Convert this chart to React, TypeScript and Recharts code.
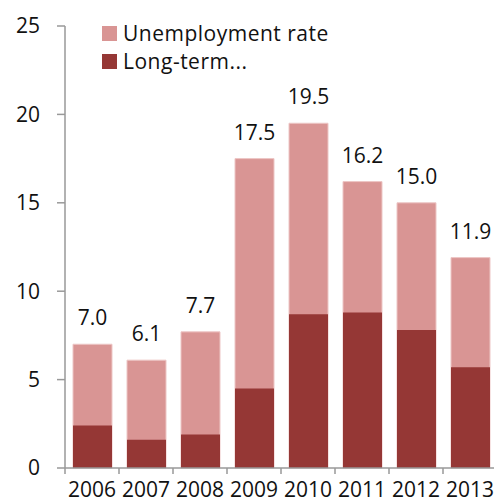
import React from "react";
import { BarChart, Bar, XAxis, YAxis, LabelList, Legend } from "recharts";

const years = ["2006", "2007", "2008", "2009", "2010", "2011", "2012", "2013"];
const unemployment = [7.0, 6.1, 7.7, 17.5, 19.5, 16.2, 15.0, 11.9];
const longTerm = [2.4, 1.6, 1.9, 4.5, 8.7, 8.8, 7.8, 5.7];
const yTicks = [0, 5, 10, 15, 20, 25];

const data = years.map((y, i) => ({ year: y, unemployment: unemployment[i], longTerm: longTerm[i] }));

const FONT = "'Open Sans', 'DejaVu Sans', sans-serif";
const LIGHT = "#D99594";
const DARK = "#953735";
const AXIS = "#999999";

const XTick = (props: any) => {
  const { x, y, payload } = props;
  const off = payload && payload.offset ? payload.offset : 27;
  return (
    <g>
      <line x1={x - off} x2={x - off} y1={y - 8} y2={y - 2} stroke={AXIS} strokeWidth={1.5} />
      <text x={x} y={y + 6} dy="0.71em" textAnchor="middle" fontSize={21} fontFamily={FONT} fill="#111">
        {payload.value}
      </text>
    </g>
  );
};

const LegendContent = () => (
  <div style={{ fontFamily: FONT, fontSize: 21, color: "#111", lineHeight: "27.5px", letterSpacing: 0.5 }}>
    {[
      { c: LIGHT, t: "Unemployment rate" },
      { c: DARK, t: "Long-term..." },
    ].map((e) => (
      <div key={e.t} style={{ display: "flex", alignItems: "center", height: 27.5 }}>
        <span style={{ display: "inline-block", width: 15, height: 15, background: e.c, marginRight: 6 }} />
        <span>{e.t}</span>
      </div>
    ))}
  </div>
);

export default function App() {
  return (
    <div style={{ position: "fixed", left: 0, top: 0, width: 494, height: 497, overflow: "hidden", background: "#fff" }}>
      <BarChart
        width={510}
        height={520}
        data={data}
        margin={{ top: 26, right: 13, left: 0, bottom: 0 }}
        barSize={39}
        barGap={-39}
      >
        <XAxis
          dataKey="year"
          height={52}
          axisLine={{ stroke: AXIS, strokeWidth: 1.5 }}
          tickLine={false}
          tick={<XTick />}
          interval={0}
        />
        <YAxis
          width={65}
          domain={[0, 25]}
          ticks={yTicks}
          axisLine={{ stroke: AXIS, strokeWidth: 1.5 }}
          tickLine={{ stroke: AXIS, strokeWidth: 1.5 }}
          tickSize={8}
          tickMargin={17}
          tick={{ fontSize: 21, fontFamily: FONT, fill: "#111" }}
        />
        <Legend
          content={<LegendContent />}
          layout="vertical"
          verticalAlign="middle"
          align="center"
          wrapperStyle={{ top: 20, left: 102, width: 300 }}
        />
        <Bar dataKey="unemployment" name="Unemployment rate" fill={LIGHT} stroke="#EDC6C5" strokeWidth={1} isAnimationActive={false}>
          <LabelList
            dataKey="unemployment"
            position="top"
            offset={19}
            formatter={(v: any) => Number(v).toFixed(1)}
            style={{ fontSize: 21, fontFamily: FONT, fill: "#111" }}
          />
        </Bar>
        <Bar dataKey="longTerm" name="Long-term..." fill={DARK} isAnimationActive={false} />
      </BarChart>
    </div>
  );
}
